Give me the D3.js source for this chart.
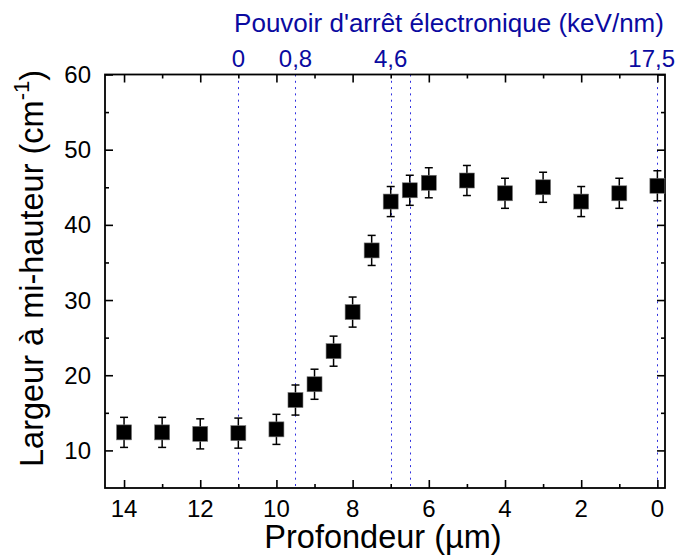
<!DOCTYPE html>
<html>
<head>
<meta charset="utf-8">
<script src="https://cdn.jsdelivr.net/npm/d3@7"></script>
<style>
  body { margin: 0; background: #fff; }
  svg text { font-family: "Liberation Sans", Arial, sans-serif; }
</style>
</head>
<body>
<svg id="chart"></svg>
<script>
// Depth (µm) and half-height width (cm-1)
const depths = [14, 13, 12, 11, 10, 9.5, 9, 8.5, 8, 7.5, 7, 6.5, 6, 5, 4, 3, 2, 1, 0];
const widths = [12.4, 12.4, 12.2, 12.3, 12.8, 16.7, 18.8, 23.2, 28.4, 36.6, 43.1, 44.6, 45.6, 45.9, 44.2, 45.0, 43.1, 44.2, 45.2];
const errors = [2, 2, 2, 2, 2, 2, 2, 2, 2, 2, 2, 2, 2, 2, 2, 2, 2, 2, 2];

// Electronic stopping power markers (top axis)
const markerDepths = [11, 9.5, 7, 6.5, 0];
const markerLabels = ['0', '0,8', '4,6', '', '17,5'];

const xTicks = [14, 12, 10, 8, 6, 4, 2, 0];
const xMinorTicks = [13, 11, 9, 7, 5, 3, 1];
const yTicks = [10, 20, 30, 40, 50, 60];
const yMinorTicks = [15, 25, 35, 45, 55];

const config = {
    width: 676,
    height: 555,
    left: 105, right: 665, top: 74.5, bottom: 488
};

const svg = d3.select('#chart')
    .attr('width', config.width)
    .attr('height', config.height);

const x = d3.scaleLinear().domain([14.5, -0.2]).range([config.left, config.right]);
const y = d3.scaleLinear().domain([5, 60]).range([config.bottom, config.top]);

const blue = '#0a0aa0';

// dotted vertical lines
svg.append('g').selectAll('line')
    .data(markerDepths)
    .join('line')
    .attr('x1', d => Math.round(x(d)) + 0.5)
    .attr('x2', d => Math.round(x(d)) + 0.5)
    .attr('y1', config.top)
    .attr('y2', config.bottom)
    .attr('stroke', '#3030e0')
    .attr('stroke-width', 1)
    .attr('stroke-dasharray', '2,4.3');

// axes: all ticks point inward
const axisBottom = d3.axisTop(x).tickValues(xTicks).tickSize(8).tickFormat('');
const axisBottomMinor = d3.axisTop(x).tickValues(xMinorTicks).tickSize(4).tickFormat('');
const axisTop = d3.axisBottom(x).tickValues(xTicks).tickSize(8).tickFormat('');
const axisTopMinor = d3.axisBottom(x).tickValues(xMinorTicks).tickSize(4).tickFormat('');
const axisLeft = d3.axisRight(y).tickValues(yTicks).tickSize(8).tickFormat('');
const axisLeftMinor = d3.axisRight(y).tickValues(yMinorTicks).tickSize(4).tickFormat('');
const axisRight = d3.axisLeft(y).tickValues(yTicks).tickSize(8).tickFormat('');
const axisRightMinor = d3.axisLeft(y).tickValues(yMinorTicks).tickSize(4).tickFormat('');

function addAxis(axis, tx, ty) {
    const g = svg.append('g')
        .attr('transform', `translate(${tx},${ty})`)
        .call(axis);
    g.select('.domain').remove();
    g.selectAll('.tick line').attr('stroke', '#000').attr('stroke-width', 1.6);
}
addAxis(axisBottom, 0, config.bottom);
addAxis(axisBottomMinor, 0, config.bottom);
addAxis(axisTop, 0, config.top);
addAxis(axisTopMinor, 0, config.top);
addAxis(axisLeft, config.left, 0);
addAxis(axisLeftMinor, config.left, 0);
addAxis(axisRight, config.right, 0);
addAxis(axisRightMinor, config.right, 0);

// frame
svg.append('rect')
    .attr('x', config.left)
    .attr('y', config.top)
    .attr('width', config.right - config.left)
    .attr('height', config.bottom - config.top)
    .attr('fill', 'none')
    .attr('stroke', '#000')
    .attr('stroke-width', 1.8);

// tick labels
svg.append('g').selectAll('text')
    .data(xTicks)
    .join('text')
    .attr('x', d => x(d))
    .attr('y', 517)
    .attr('text-anchor', 'middle')
    .attr('font-size', 24)
    .text(d => d);

svg.append('g').selectAll('text')
    .data(yTicks)
    .join('text')
    .attr('x', 91)
    .attr('y', d => y(d) + 8.5)
    .attr('text-anchor', 'end')
    .attr('font-size', 24)
    .text(d => d);

// top (stopping power) labels
svg.append('g').selectAll('text')
    .data(markerDepths.map((d, i) => ({ d, label: markerLabels[i] })))
    .join('text')
    .attr('x', d => x(d.d))
    .attr('y', 67)
    .attr('text-anchor', 'middle')
    .attr('font-size', 24)
    .attr('fill', blue)
    .text(d => d.label)
    .each(function() {
        const b = this.getBBox();
        if (b.x + b.width > config.width - 1) {
            d3.select(this).attr('x', +d3.select(this).attr('x') - (b.x + b.width - config.width + 1));
        }
    });

// axis titles
svg.append('text')
    .attr('x', 449)
    .attr('y', 32)
    .attr('text-anchor', 'middle')
    .attr('font-size', 26)
    .attr('fill', blue)
    .text("Pouvoir d'arrêt électronique (keV/nm)");

svg.append('text')
    .attr('x', 383)
    .attr('y', 548)
    .attr('text-anchor', 'middle')
    .attr('font-size', 32.5)
    .text('Profondeur (µm)');

const yTitle = svg.append('text')
    .attr('transform', 'translate(43,467) rotate(-90)')
    .attr('text-anchor', 'start')
    .attr('font-size', 32.5);
yTitle.append('tspan').text('Largeur à mi-hauteur (cm');
yTitle.append('tspan').attr('font-size', 22).attr('dy', -14).text('-1');
yTitle.append('tspan').attr('dy', 14).text(')');

// error bars
const capHalf = 4;
const bars = svg.append('g').selectAll('g')
    .data(depths.map((d, i) => ({ x: d, y: widths[i], e: errors[i] })))
    .join('g');
bars.append('line')
    .attr('x1', d => x(d.x)).attr('x2', d => x(d.x))
    .attr('y1', d => y(d.y - d.e)).attr('y2', d => y(d.y + d.e))
    .attr('stroke', '#000').attr('stroke-width', 1.5);
bars.append('line')
    .attr('x1', d => x(d.x) - capHalf).attr('x2', d => x(d.x) + capHalf)
    .attr('y1', d => y(d.y + d.e)).attr('y2', d => y(d.y + d.e))
    .attr('stroke', '#000').attr('stroke-width', 1.5);
bars.append('line')
    .attr('x1', d => x(d.x) - capHalf).attr('x2', d => x(d.x) + capHalf)
    .attr('y1', d => y(d.y - d.e)).attr('y2', d => y(d.y - d.e))
    .attr('stroke', '#000').attr('stroke-width', 1.5);

// square markers
const size = 15;
svg.append('g').selectAll('rect')
    .data(depths.map((d, i) => ({ x: d, y: widths[i] })))
    .join('rect')
    .attr('x', d => x(d.x) - size / 2)
    .attr('y', d => y(d.y) - size / 2)
    .attr('width', size)
    .attr('height', size)
    .attr('fill', '#000')
    .attr('stroke', '#777')
    .attr('stroke-width', 0.6);
</script>
</body>
</html>
